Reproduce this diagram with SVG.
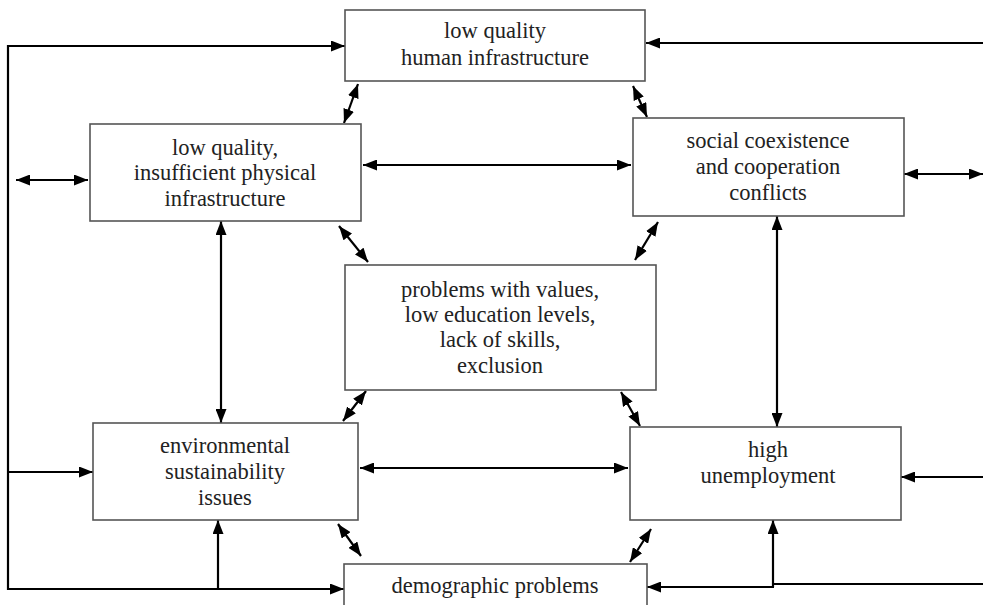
<svg xmlns="http://www.w3.org/2000/svg" width="983" height="605" viewBox="0 0 983 605">
<defs>
<marker id="ah" viewBox="0 0 14 11" markerWidth="14" markerHeight="11" refX="14" refY="5.5" markerUnits="userSpaceOnUse" orient="auto-start-reverse">
<path d="M0,0 L14,5.5 L0,11 z" fill="#000"/>
</marker>
<style>
.box{fill:#fff;stroke:#555;stroke-width:1.6}
.t{font-family:"Liberation Serif","Times New Roman",serif;font-size:22.5px;fill:#222;text-anchor:middle}
.c{fill:none;stroke:#000;stroke-width:2.2}
.a{marker-end:url(#ah)}
.d{marker-start:url(#ah);marker-end:url(#ah)}
</style>
</defs>
<rect width="983" height="605" fill="#fff"/>
<g id="connectors">
<path class="c a" d="M8,590 V46 H345"/>
<path class="c a" d="M983,43 H646"/>
<path class="c a" d="M8,472 H93"/>
<path class="c a" d="M8,589 H344"/>
<path class="c a" d="M218,589 V520"/>
<path class="c a" d="M983,477 H901"/>
<path class="c" d="M983,584 H773"/>
<path class="c a" d="M773,587 V520"/>
<path class="c a" d="M774,587 H647"/>
<path class="c d" d="M16,180 H88"/>
<path class="c d" d="M904,174 H983"/>
<path class="c d" d="M363,165 H631"/>
<path class="c d" d="M360,468 H628"/>
<path class="c d" d="M221,221 V423"/>
<path class="c d" d="M777,216 V427"/>
<path class="c d" d="M358,84 L344,123"/>
<path class="c d" d="M633,86 L647,117"/>
<path class="c d" d="M339,226 L368,262"/>
<path class="c d" d="M658,222 L635,260"/>
<path class="c d" d="M366,391 L343,421"/>
<path class="c d" d="M621,392 L640,426"/>
<path class="c d" d="M338,524 L361,556"/>
<path class="c d" d="M651,529 L630,562"/>
</g>
<g id="n1">
<rect class="box" x="345" y="10" width="300" height="71"/>
<text class="t" x="495" y="38">low quality</text>
<text class="t" x="495" y="65">human infrastructure</text>
</g>
<g id="n2">
<rect class="box" x="90" y="124" width="271" height="97"/>
<text class="t" x="225" y="155">low quality,</text>
<text class="t" x="225" y="180">insufficient physical</text>
<text class="t" x="225" y="206">infrastructure</text>
</g>
<g id="n3">
<rect class="box" x="633" y="118" width="271" height="98"/>
<text class="t" x="768" y="148">social coexistence</text>
<text class="t" x="768" y="174">and cooperation</text>
<text class="t" x="768" y="200">conflicts</text>
</g>
<g id="n4">
<rect class="box" x="345" y="265" width="311" height="125"/>
<text class="t" x="500" y="297">problems with values,</text>
<text class="t" x="500" y="322">low education levels,</text>
<text class="t" x="500" y="347">lack of skills,</text>
<text class="t" x="500" y="373">exclusion</text>
</g>
<g id="n5">
<rect class="box" x="93" y="423" width="265" height="97"/>
<text class="t" x="225" y="453">environmental</text>
<text class="t" x="225" y="479">sustainability</text>
<text class="t" x="225" y="505">issues</text>
</g>
<g id="n6">
<rect class="box" x="630" y="427" width="271" height="93"/>
<text class="t" x="768" y="457">high</text>
<text class="t" x="768" y="483">unemployment</text>
</g>
<g id="n7">
<rect class="box" x="344" y="564" width="303" height="50"/>
<text class="t" x="495" y="593">demographic problems</text>
</g>
</svg>
